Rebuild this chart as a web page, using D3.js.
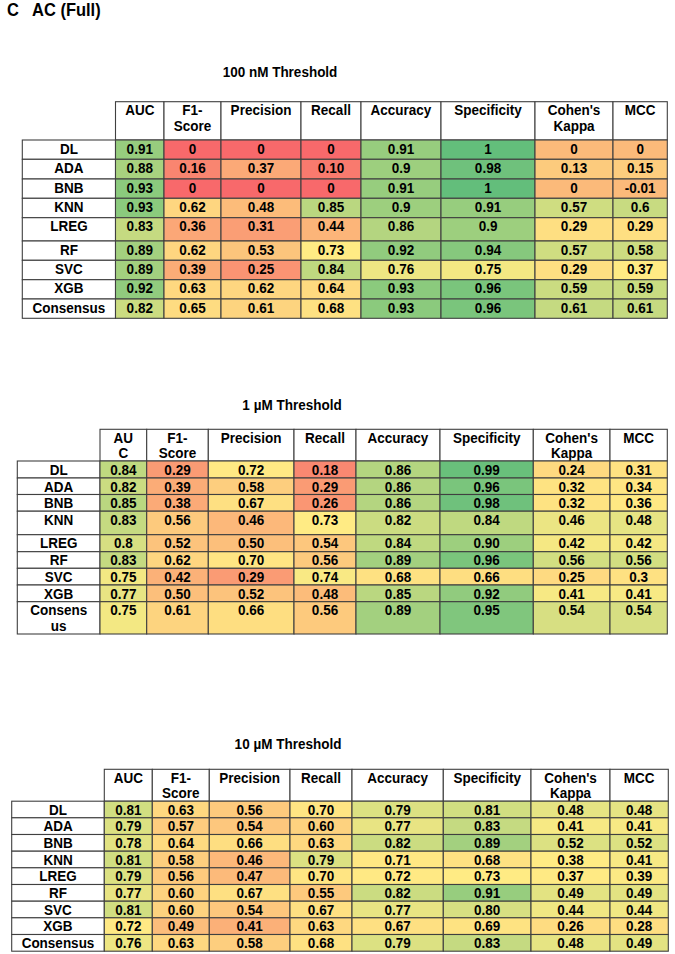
<!DOCTYPE html>
<html>
<head>
<meta charset="utf-8">
<script src="https://cdn.jsdelivr.net/npm/d3@7"></script>
<style>
  body { margin: 0; background: #fff; }
  svg text { font-family: "Liberation Sans", Arial, sans-serif; font-weight: bold; fill: #000; }
</style>
</head>
<body>
<div id="chart"></div>
<script>
const width = 675;
const height = 954;

const models = ["DL", "ADA", "BNB", "KNN", "LREG", "RF", "SVC", "XGB", "Consensus"];
const metrics = ["AUC", "F1-Score", "Precision", "Recall", "Accuracy", "Specificity", "Cohen's Kappa", "MCC"];
const thresholds = ["100 nM Threshold", "1 \u00b5M Threshold", "10 \u00b5M Threshold"];

// values as printed in the cells (rows = models, cols = metrics)
const values100nM = [
  ["0.91", "0", "0", "0", "0.91", "1", "0", "0"],
  ["0.88", "0.16", "0.37", "0.10", "0.9", "0.98", "0.13", "0.15"],
  ["0.93", "0", "0", "0", "0.91", "1", "0", "-0.01"],
  ["0.93", "0.62", "0.48", "0.85", "0.9", "0.91", "0.57", "0.6"],
  ["0.83", "0.36", "0.31", "0.44", "0.86", "0.9", "0.29", "0.29"],
  ["0.89", "0.62", "0.53", "0.73", "0.92", "0.94", "0.57", "0.58"],
  ["0.89", "0.39", "0.25", "0.84", "0.76", "0.75", "0.29", "0.37"],
  ["0.92", "0.63", "0.62", "0.64", "0.93", "0.96", "0.59", "0.59"],
  ["0.82", "0.65", "0.61", "0.68", "0.93", "0.96", "0.61", "0.61"]
];
const values1uM = [
  ["0.84", "0.29", "0.72", "0.18", "0.86", "0.99", "0.24", "0.31"],
  ["0.82", "0.39", "0.58", "0.29", "0.86", "0.96", "0.32", "0.34"],
  ["0.85", "0.38", "0.67", "0.26", "0.86", "0.98", "0.32", "0.36"],
  ["0.83", "0.56", "0.46", "0.73", "0.82", "0.84", "0.46", "0.48"],
  ["0.8", "0.52", "0.50", "0.54", "0.84", "0.90", "0.42", "0.42"],
  ["0.83", "0.62", "0.70", "0.56", "0.89", "0.96", "0.56", "0.56"],
  ["0.75", "0.42", "0.29", "0.74", "0.68", "0.66", "0.25", "0.3"],
  ["0.77", "0.50", "0.52", "0.48", "0.85", "0.92", "0.41", "0.41"],
  ["0.75", "0.61", "0.66", "0.56", "0.89", "0.95", "0.54", "0.54"]
];
const values10uM = [
  ["0.81", "0.63", "0.56", "0.70", "0.79", "0.81", "0.48", "0.48"],
  ["0.79", "0.57", "0.54", "0.60", "0.77", "0.83", "0.41", "0.41"],
  ["0.78", "0.64", "0.66", "0.63", "0.82", "0.89", "0.52", "0.52"],
  ["0.81", "0.58", "0.46", "0.79", "0.71", "0.68", "0.38", "0.41"],
  ["0.79", "0.56", "0.47", "0.70", "0.72", "0.73", "0.37", "0.39"],
  ["0.77", "0.60", "0.67", "0.55", "0.82", "0.91", "0.49", "0.49"],
  ["0.81", "0.60", "0.54", "0.67", "0.77", "0.80", "0.44", "0.44"],
  ["0.72", "0.49", "0.41", "0.63", "0.67", "0.69", "0.26", "0.28"],
  ["0.76", "0.63", "0.58", "0.68", "0.79", "0.83", "0.48", "0.49"]
];

// colour scales: score metrics and agreement metrics (kappa, MCC)
const scoreColor = d3.scaleLinear()
  .domain([0, 0.5, 0.73, 1])
  .range(["#f8696b", "#fcbf7b", "#ffeb84", "#63be7b"]);
const agreeColor = d3.scaleLinear()
  .domain([0, 0.38, 1])
  .range(["#fbba7a", "#ffeb84", "#63be7b"])
  .clamp(true);

// table layout
const tables = [
  {
    data: values100nM,
    titleX: 280, titleY: 77, top: 101.7, headerH: 38.3,
    cols: [22.3, 115.5, 164, 221, 301, 361, 441, 535, 613, 667.3],
    rowH: [19.3, 19.7, 19.3, 19.4, 23.3, 19.3, 19.4, 19.3, 19.3],
    header: [["AUC"], ["F1-", "Score"], ["Precision"], ["Recall"], ["Accuracy"], ["Specificity"], ["Cohen's", "Kappa"], ["MCC"]],
    labels: models.map(m => [m])
  },
  {
    data: values1uM,
    titleX: 292, titleY: 410, top: 429.3, headerH: 31.7,
    cols: [17.3, 100, 146.7, 208.3, 294, 356, 440, 533.3, 610, 667.3],
    rowH: [17, 16.5, 16.7, 23.5, 17, 16.6, 16.7, 16.7, 32.3],
    header: [["AU", "C"], ["F1-", "Score"], ["Precision"], ["Recall"], ["Accuracy"], ["Specificity"], ["Cohen's", "Kappa"], ["MCC"]],
    labels: models.map(m => m === "Consensus" ? ["Consens", "us"] : [m])
  },
  {
    data: values10uM,
    titleX: 288, titleY: 749, top: 769.3, headerH: 31.9,
    cols: [11.7, 104.3, 152.3, 209.3, 290, 352, 443.3, 531, 610, 668.3],
    rowH: [16.6, 16.7, 16.7, 16.6, 16.7, 16.7, 16.6, 16.7, 16.7],
    header: [["AUC"], ["F1-", "Score"], ["Precision"], ["Recall"], ["Accuracy"], ["Specificity"], ["Cohen's", "Kappa"], ["MCC"]],
    labels: models.map(m => [m])
  }
];

const fontSize = 13.5;
const stretch = 1.12; // glyphs in the source are a little taller than wide
const baseOffset = 13.6;
const lineH = 15.5;
const stroke = "#404040";

const svg = d3
  .select("#chart")
  .append("svg")
  .attr("width", width)
  .attr("height", height);

const addText = (sel, x, y, str, size, anchor = "middle") =>
  sel
    .append("text")
    .attr("transform", `translate(${x},${y}) scale(1,${stretch})`)
    .attr("text-anchor", anchor)
    .style("font-size", size + "px")
    .text(str);

addText(svg, 7, 16, "C", 16.5, "start");
addText(svg, 32, 16, "AC (Full)", 16.5, "start");

const addCell = (g, x0, x1, y0, h, fill) =>
  g
    .append("rect")
    .attr("x", x0)
    .attr("y", y0)
    .attr("width", x1 - x0)
    .attr("height", h)
    .attr("fill", fill)
    .attr("stroke", stroke)
    .attr("stroke-width", 1.1);

tables.forEach((t, ti) => {
  const g = svg.append("g");

  addText(g, t.titleX, t.titleY, thresholds[ti], 13.5);

  const rowTops = [t.top + t.headerH];
  t.rowH.forEach((h, i) => rowTops.push(rowTops[i] + h));

  // header cells
  metrics.forEach((m, j) => {
    const x0 = t.cols[j + 1];
    const x1 = t.cols[j + 2];
    addCell(g, x0, x1, t.top, t.headerH, "#fff");
    t.header[j].forEach((line, k) => {
      addText(g, (x0 + x1) / 2, t.top + baseOffset + k * lineH, line, fontSize);
    });
  });

  // body rows
  models.forEach((model, i) => {
    const y0 = rowTops[i];
    const h = t.rowH[i];

    addCell(g, t.cols[0], t.cols[1], y0, h, "#fff");
    t.labels[i].forEach((line, k) => {
      addText(g, (t.cols[0] + t.cols[1]) / 2, y0 + baseOffset + k * lineH, line, fontSize);
    });

    t.data[i].forEach((v, j) => {
      const x0 = t.cols[j + 1];
      const x1 = t.cols[j + 2];
      const color = j >= 6 ? agreeColor(+v) : scoreColor(+v);
      addCell(g, x0, x1, y0, h, color);
      addText(g, (x0 + x1) / 2, y0 + baseOffset, v, fontSize);
    });
  });
});
</script>
</body>
</html>
